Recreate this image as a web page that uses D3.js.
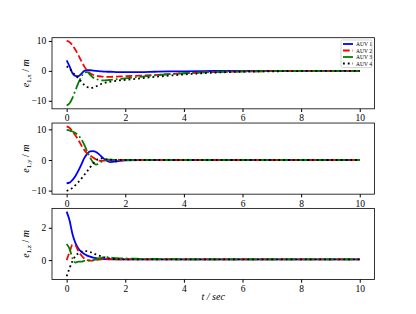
<!DOCTYPE html>
<html>
<head>
<meta charset="utf-8">
<script src="https://cdn.jsdelivr.net/npm/d3@7"></script>
<style>
  body { margin: 0; background: #fff; }
  svg { display: block; font-family: "Liberation Serif", "DejaVu Serif", serif; }
</style>
</head>
<body>
<div id="my_dataviz"></div>
<script>
// time samples (sec)
const t = [0, 0.1, 0.2, 0.3, 0.4, 0.5, 0.6, 0.7, 0.8, 0.9, 1.0, 1.1, 1.2, 1.3, 1.4, 1.5, 1.7, 2.0, 2.5, 3, 3.5, 4, 5, 6, 7, 8, 9, 10];

const names = ["AUV 1", "AUV 2", "AUV 3", "AUV 4"];
const xTicks = [0, 2, 4, 6, 8, 10];

// e_{1,x}
const ex1 = [3.5, 1.5, -0.8, -1.7, -1.8, -1.0, 0.0, 0.2, 0.2, 0.1, 0.0, -0.1, -0.2, -0.25, -0.3, -0.3, -0.4, -0.4, -0.4, -0.3, -0.2, -0.15, -0.05, 0, 0, 0, 0, 0];
const ex2 = [10, 9.6, 8.5, 7.0, 5.2, 3.3, 1.5, 0.1, -0.8, -1.3, -1.6, -1.8, -1.9, -2.0, -2.0, -2.0, -1.9, -1.8, -1.6, -1.4, -1.1, -0.8, -0.4, -0.2, -0.1, 0, 0, 0];
const ex3 = [-11.6, -10.8, -9.0, -6.5, -4.0, -2.0, -0.6, -0.4, -1.3, -2.2, -2.7, -3.0, -3.2, -3.2, -3.1, -3.0, -2.8, -2.5, -2.0, -1.5, -1.1, -0.8, -0.4, -0.2, -0.1, 0, 0, 0];
const ex4 = [1.5, 0.8, -0.5, -1.5, -2.5, -3.6, -4.7, -5.4, -5.7, -5.6, -5.2, -4.7, -4.3, -4.0, -3.8, -3.6, -3.3, -3.0, -2.5, -2.0, -1.6, -1.2, -0.6, -0.3, -0.15, -0.05, 0, 0];

// e_{1,y}
const ey1 = [-7.6, -7.4, -6.5, -5.2, -3.5, -1.5, 0.6, 2.0, 2.8, 2.9, 2.6, 1.9, 1.0, 0.2, -0.4, -0.7, -0.5, -0.1, 0, 0, 0, 0, 0, 0, 0, 0, 0, 0];
const ey2 = [11, 10.5, 9.3, 8.0, 6.5, 4.8, 3.3, 2.2, 1.5, 0.8, 0.2, -0.2, -0.3, -0.2, -0.1, 0, 0, 0, 0, 0, 0, 0, 0, 0, 0, 0, 0, 0];
const ey3 = [9.8, 9.6, 9.3, 8.8, 8.0, 6.8, 5.0, 2.8, 0.8, -0.8, -1.5, -1.2, -0.5, -0.1, 0.1, 0.1, 0, 0, 0, 0, 0, 0, 0, 0, 0, 0, 0, 0];
const ey4 = [-10.1, -9.7, -9.1, -8.2, -7.2, -6.1, -4.9, -3.7, -2.4, -1.2, -0.2, 0.4, 0.5, 0.4, 0.2, 0.1, 0, 0, 0, 0, 0, 0, 0, 0, 0, 0, 0, 0];

// e_{1,z}
const ez1 = [3.0, 2.45, 1.6, 1.05, 0.72, 0.52, 0.38, 0.28, 0.21, 0.16, 0.12, 0.09, 0.07, 0.06, 0.05, 0.05, 0.05, 0.05, 0.05, 0.05, 0.05, 0.05, 0.05, 0.05, 0.05, 0.05, 0.05, 0.05];
const ez2 = [0.0, 0.5, 0.95, 0.9, 0.55, 0.3, 0.1, 0.0, -0.03, -0.03, 0.0, 0.03, 0.05, 0.07, 0.07, 0.06, 0.05, 0.05, 0.05, 0.05, 0.05, 0.05, 0.05, 0.05, 0.05, 0.05, 0.05, 0.05];
const ez3 = [1.0, 0.7, 0.1, -0.15, -0.1, -0.1, -0.05, -0.05, 0, 0, 0.05, 0.1, 0.15, 0.2, 0.18, 0.15, 0.12, 0.1, 0.08, 0.07, 0.06, 0.05, 0.05, 0.05, 0.05, 0.05, 0.05, 0.05];
const ez4 = [-1.0, -0.5, -0.05, 0.25, 0.42, 0.52, 0.56, 0.55, 0.5, 0.42, 0.35, 0.28, 0.22, 0.17, 0.13, 0.1, 0.07, 0.05, 0.05, 0.05, 0.05, 0.05, 0.05, 0.05, 0.05, 0.05, 0.05, 0.05];

const panels = [
  { sub: "1,x", series: [ex1, ex2, ex3, ex4], ticks: [-10, 0, 10] },
  { sub: "1,y", series: [ey1, ey2, ey3, ey4], ticks: [-10, 0, 10] },
  { sub: "1,z", series: [ez1, ez2, ez3, ez4], ticks: [0, 2] }
];

// line styles, matplotlib-like
const colors = ["#0000ff", "#ff0000", "#008000", "#000000"];
const dashes = [null, "6.7,2.9", "11.6,2.9,1.8,2.9", "1.8,3"];

const W = 416, H = 314;
const padL = 52, padR = 374.4, padT = 37.7, padB = 279.5;
const ph = (padB - padT) / 3.4, gap = ph * 0.2;
const serif = '"Liberation Serif", "DejaVu Serif", serif';

const svg = d3.select("#my_dataviz")
  .append("svg")
  .attr("width", W)
  .attr("height", H);

const x = d3.scaleLinear().domain([-0.5, 10.5]).range([padL, padR]);

panels.forEach((p, i) => {
  const y0 = padT + i * (ph + gap);
  const all = p.series.flat();
  const lo = d3.min(all), hi = d3.max(all), m = (hi - lo) * 0.05;
  const y = d3.scaleLinear().domain([lo - m, hi + m]).range([y0 + ph, y0]);

  const g = svg.append("g");

  const line = d3.line()
    .x((d, k) => x(t[k]))
    .y(d => y(d))
    .curve(d3.curveMonotoneX);

  p.series.forEach((s, k) => {
    g.append("path")
      .datum(s)
      .attr("d", line)
      .attr("fill", "none")
      .attr("stroke", colors[k])
      .attr("stroke-width", 1.8)
      .attr("stroke-dasharray", dashes[k]);
  });

  // axes
  g.append("g")
    .attr("transform", `translate(0,${y0 + ph})`)
    .call(d3.axisBottom(x).tickValues(xTicks).tickFormat(d3.format("d")).tickSize(3.2).tickPadding(2.5))
    .attr("font-family", serif).attr("font-size", 9.5)
    .call(a => a.select(".domain").remove())
    .selectAll("text").attr("fill", "#000");
  g.append("g")
    .attr("transform", `translate(${padL},0)`)
    .call(d3.axisLeft(y).tickValues(p.ticks).tickFormat(d3.format("d")).tickSize(3.2).tickPadding(2.5))
    .attr("font-family", serif).attr("font-size", 9.5)
    .call(a => a.select(".domain").remove())
    .selectAll("text").attr("fill", "#000");

  g.append("rect")
    .attr("x", padL).attr("y", y0)
    .attr("width", padR - padL).attr("height", ph)
    .attr("fill", "none").attr("stroke", "#000").attr("stroke-width", 0.8);

  // y label
  const lab = g.append("text")
    .attr("transform", `translate(29,${y0 + ph / 2}) rotate(-90)`)
    .attr("text-anchor", "middle")
    .style("font-size", "10px");
  lab.append("tspan").attr("font-style", "italic").text("e");
  lab.append("tspan").attr("dy", 2).style("font-size", "7px").text(p.sub);
  lab.append("tspan").attr("dy", -2).text(" / ");
  lab.append("tspan").attr("font-style", "italic").text("m");
});

// x label
svg.append("text")
  .attr("x", (padL + padR) / 2).attr("y", 300)
  .attr("text-anchor", "middle")
  .style("font-size", "10px")
  .style("font-style", "italic")
  .text("t / sec");

// legend
const lg = svg.append("g").attr("transform", "translate(341,40)");
lg.append("rect")
  .attr("width", 31).attr("height", 27.5).attr("rx", 1.5)
  .attr("fill", "#fff").attr("fill-opacity", 0.8)
  .attr("stroke", "#ccc").attr("stroke-width", 0.8);
names.forEach((n, k) => {
  const yy = 4 + k * 6.5;
  lg.append("line")
    .attr("x1", 2).attr("x2", 12).attr("y1", yy).attr("y2", yy)
    .attr("stroke", colors[k]).attr("stroke-width", 1.8)
    .attr("stroke-dasharray", dashes[k]);
  lg.append("text")
    .attr("x", 15).attr("y", yy + 2)
    .style("font-size", "5.5px")
    .text(n);
});
</script>
</body>
</html>
